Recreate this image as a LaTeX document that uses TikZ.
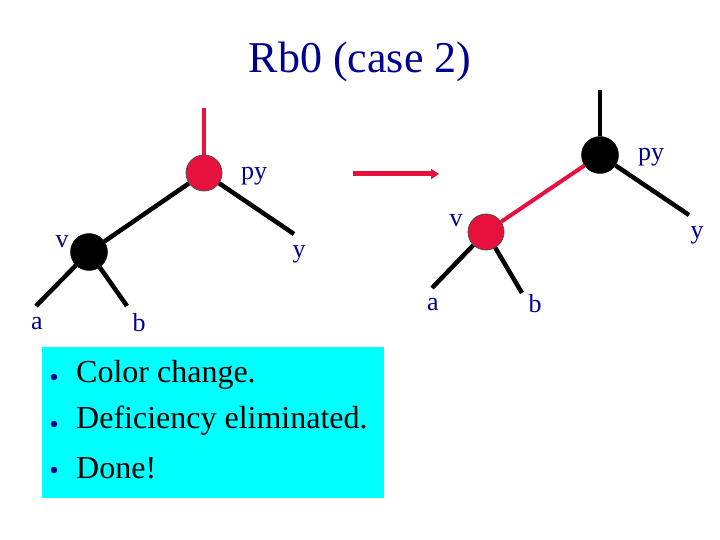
\documentclass[tikz,border=0pt]{standalone}
\usepackage{fontspec}
\setmainfont{Liberation Serif}
\usetikzlibrary{arrows.meta}
\definecolor{rbred}{RGB}{232,16,60}
\definecolor{lblblue}{RGB}{0,0,140}
\definecolor{boxcyan}{RGB}{0,255,255}
\tikzset{
  rednode/.style={circle,fill=rbred,draw=black!70,line width=0.8pt,minimum size=36pt,inner sep=0pt},
  blknode/.style={circle,fill=black,draw=black,minimum size=37pt,inner sep=0pt},
  blkedge/.style={line width=4.5pt,black},
  rededge/.style={line width=4pt,rbred},
  lbl/.style={text=lblblue,font=\fontsize{26}{30}\selectfont,inner sep=0pt},
  bullettext/.style={font=\fontsize{32}{36}\selectfont,inner sep=0pt,anchor=west},
  bulletdot/.style={circle,fill=lblblue,minimum size=6.5pt,inner sep=0pt}
}
\begin{document}
\begin{tikzpicture}[x=1pt,y=-1pt]
\useasboundingbox (0,0) rectangle (720,540);
% title
\node[font=\fontsize{44}{50}\selectfont,text=lblblue,inner sep=0pt] (title) at (360,62) {Rb0 (case 2)};

% left tree
\node[rednode] (lpy) at (204,173) {};
\node[blknode] (lv) at (89,252) {};
\coordinate (ltop) at (204,108);
\coordinate (ly) at (294,234);
\coordinate (la) at (36,306);
\coordinate (lb) at (127,306);
\draw[rededge] (ltop) -- (lpy);
\draw[blkedge] (lpy) -- (lv);
\draw[blkedge] (lpy) -- (ly);
\draw[blkedge] (lv) -- (la);
\draw[blkedge] (lv) -- (lb);
\node[lbl] (lpyl) at (254,176) {py};
\node[lbl] (lvl) at (62,242) {v};
\node[lbl] (lyl) at (299,254) {y};
\node[lbl] (lal) at (37,324) {a};
\node[lbl] (lbl) at (139,323) {b};

% arrow
\coordinate (arrs) at (353,174);
\coordinate (arre) at (439,174);
\draw[line width=5pt,rbred,-{Triangle[length=8pt,width=10pt]}] (arrs) -- (arre);

% right tree
\node[blknode] (rpy) at (600,155) {};
\node[rednode] (rv) at (486,232) {};
\coordinate (rtop) at (600,90);
\coordinate (ry) at (689,215);
\coordinate (ra) at (432,288);
\coordinate (rb) at (522,293);
\draw[blkedge] (rtop) -- (rpy);
\draw[rededge] (rpy) -- (rv);
\draw[blkedge] (rpy) -- (ry);
\draw[blkedge] (rv) -- (ra);
\draw[blkedge] (rv) -- (rb);
\node[lbl] (rpyl) at (651,157) {py};
\node[lbl] (rvl) at (456,221) {v};
\node[lbl] (ryl) at (697,235) {y};
\node[lbl] (ral) at (433,305) {a};
\node[lbl] (rbl) at (535,304) {b};

% text box
\node[fill=boxcyan,minimum width=342pt,minimum height=151pt,inner sep=0pt,anchor=north west] (box) at (42,347) {};
\node[bulletdot] (d1) at (54,377) {};
\node[bulletdot] (d2) at (54,424) {};
\node[bulletdot] (d3) at (54,470) {};
\node[bullettext] (t1) at (76,375) {Color change.};
\node[bullettext] (t2) at (76,421) {Deficiency eliminated.};
\node[bullettext] (t3) at (76,468) {Done!};
\end{tikzpicture}
\end{document}
